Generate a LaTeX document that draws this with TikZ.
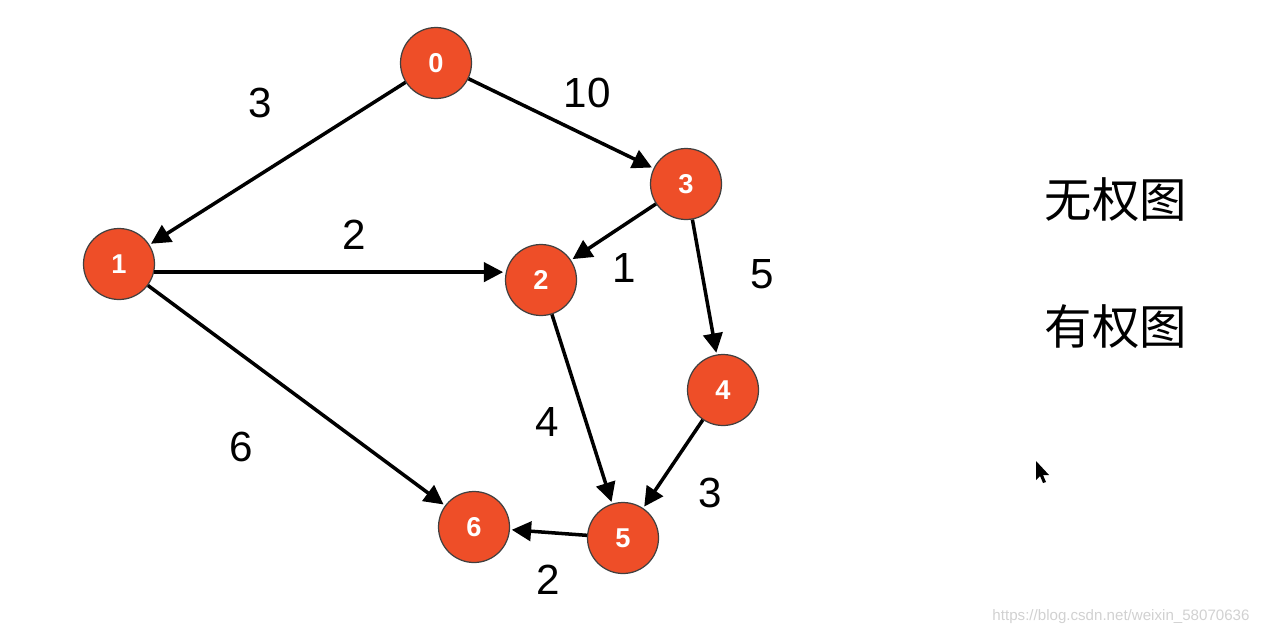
\documentclass[tikz,border=0pt]{standalone}
\usepackage{fontspec}
\setmainfont{Liberation Sans}
\newfontfamily\cjk{Noto Sans CJK SC}
\usetikzlibrary{arrows.meta}

\begin{document}
\begin{tikzpicture}
  [x=0.02cm, y=-0.02cm,
   vertex/.style={shape = circle, fill=vred, draw=black!75, line width=0.7pt,
     minimum size=71*0.02cm, inner sep=0pt, text=white, font=\fontsize{15.5}{15.5}\selectfont\bfseries},
   edge/.style={-{Triangle[length=11pt,width=11pt]}, line width=2pt, shorten >=1pt},
   weight/.style={font=\fontsize{24}{24}\selectfont}]

  \definecolor{vred}{RGB}{238,78,40}
  \useasboundingbox (0,0) rectangle (1266,636);

    \node (v0) at (436,63) [vertex] {0};
    \node (v1) at (119,264) [vertex] {1};
    \node (v2) at (541,280) [vertex] {2};
    \node (v3) at (686,184) [vertex] {3};
    \node (v4) at (723,390) [vertex] {4};
    \node (v5) at (623,538) [vertex] {5};
    \node (v6) at (474,527) [vertex] {6};

    \draw[edge] (v0) -- (v1);
    \draw[edge] (v0) -- (v3);
    \draw[edge] (v1.-13) -- (v1.-13 -| v2.west);
    \draw[edge] (v1) -- (v6);
    \draw[edge] (v3) -- (v2);
    \draw[edge] (v3) -- (v4);
    \draw[edge] (v2) -- (v5);
    \draw[edge] (v4) -- (v5);
    \draw[edge] (v5) -- (v6);

    \node (w01) at (260,103) [weight] {3};
    \node (w03) at (587,93) [weight] {10};
    \node (w12) at (354,235) [weight] {2};
    \node (w32) at (624,268) [weight] {1};
    \node (w34) at (762,274) [weight] {5};
    \node (w25) at (547,422) [weight] {4};
    \node (w16) at (241,447) [weight] {6};
    \node (w45) at (710,493) [weight] {3};
    \node (w56) at (548,580) [weight] {2};

    \node (unweighted) at (1116,200) {\cjk\fontsize{27}{27}\selectfont 无权图};
    \node (weighted) at (1116,327) {\cjk\fontsize{27}{27}\selectfont 有权图};

    % mouse pointer
    \fill[black] (1036,461) -- (1036,480) -- (1040,476) -- (1043,483) -- (1046,482) -- (1043,475) -- (1049,475) -- cycle;

    \node (mark) at (1121,617) [text=black!18, font=\fontsize{8.6}{8.6}\selectfont] {https://blog.csdn.net/weixin\_58070636};

\end{tikzpicture}
\end{document}
